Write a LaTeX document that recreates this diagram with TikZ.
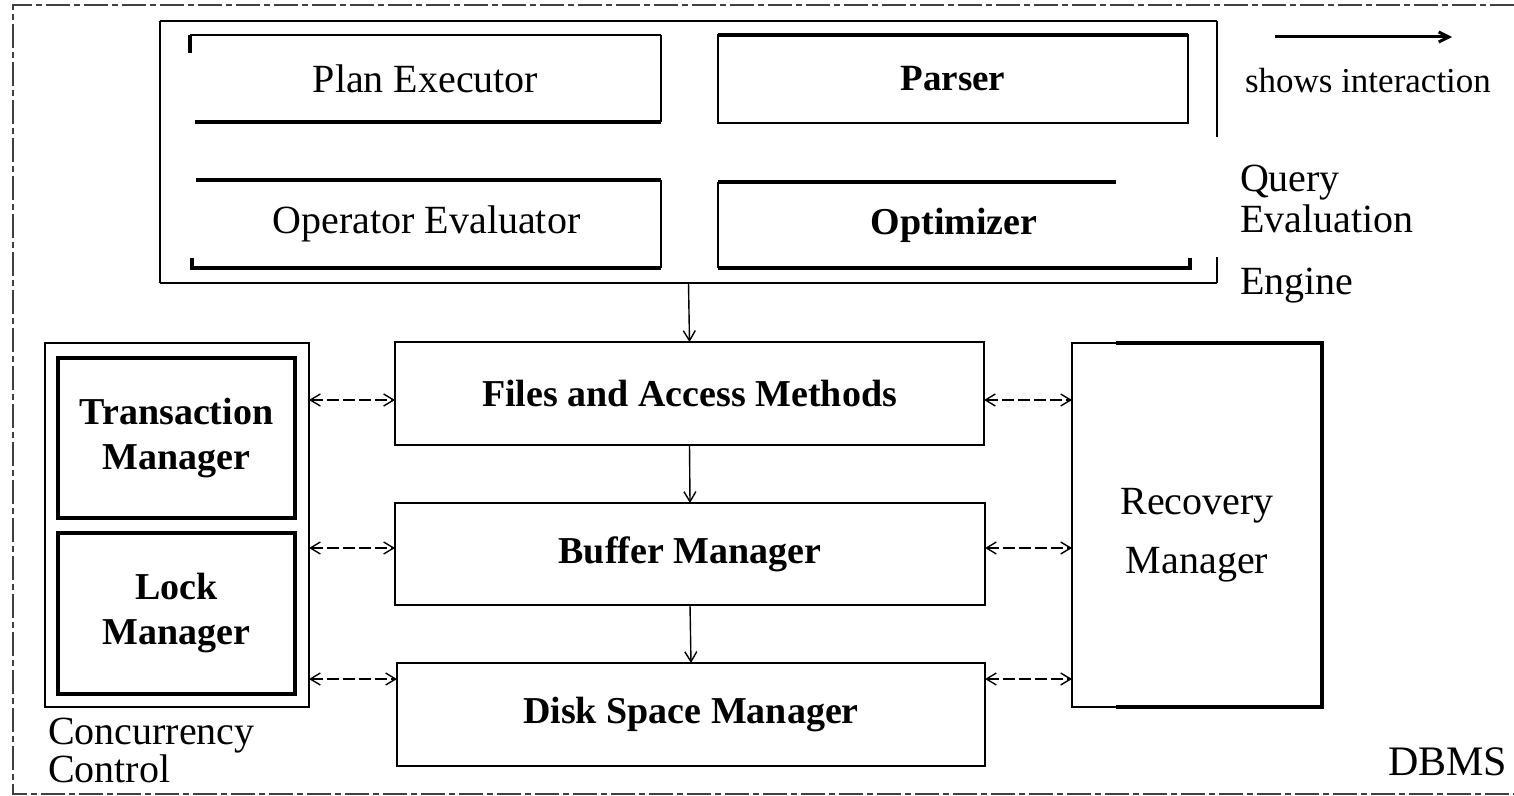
\documentclass[tikz,border=0pt]{standalone}
\usepackage{fontspec}
\setmainfont{Liberation Serif}
\usetikzlibrary{arrows.meta}
\begin{document}
\begin{tikzpicture}[x=0.5pt,y=-0.5pt,
  every node/.style={inner sep=0pt, outer sep=0pt},
  txt/.style={font=\fontsize{20}{22.5}\selectfont, align=center},
  btxt/.style={font=\fontsize{19}{22.5}\selectfont\bfseries, align=center},
  heavy/.style={line width=2.3pt},
  medium/.style={line width=1.4pt},
  hair/.style={line width=0.7pt},
  flow/.style={line width=0.7pt, -{Straight Barb[length=5pt,width=6pt]}},
  inter/.style={line width=0.7pt, dash pattern=on 6pt off 2pt, {Straight Barb[length=5pt,width=6pt]}-{Straight Barb[length=5pt,width=6pt]}},
  frame/.style={line width=0.6pt, black!75, dash pattern=on 12pt off 2pt on 3pt off 2pt},
]
\useasboundingbox (0,0) rectangle (1514,796);

% outer DBMS frame
\draw[frame] (1514,5) -- (13,5) -- (13,794) -- (1514,794);

% Query evaluation engine
\node[minimum width=528.5pt, minimum height=131pt] (qee) at (688.5,152) {};
\node[txt, minimum width=235.5pt, minimum height=43.5pt] (pe) at (425.5,78.5) {Plan Executor};
\node[btxt, font=\fontsize{18.5}{22.5}\selectfont\bfseries, minimum width=235pt, minimum height=44pt] (pa) at (953,79) {Parser};
\node[txt, minimum width=234.5pt, minimum height=44pt] (oe) at (426.5,224) {Operator Evaluator};
\node[btxt, minimum width=236pt, minimum height=43pt] (op) at (954,225) {Optimizer};

% Plan Executor borders
\draw[hair] (pe.north west) -- (pe.north east);
\draw[heavy] ([yshift=-9pt]pe.north west) -- (pe.north west);
\draw[medium] (pe.north east) -- (pe.south east);
\draw[heavy] ([xshift=2.5pt]pe.south west) -- (pe.south east);
% Operator Evaluator borders
\draw[heavy] ([xshift=2pt]oe.north west) -- (oe.north east);
\draw[medium] (oe.north east) -- (oe.south east);
\draw[heavy] ([yshift=5pt]oe.south west) -- (oe.south west) -- (oe.south east);
% Parser borders
\draw[medium] (pa.north west) rectangle (pa.south east);
\draw[heavy] (pa.north west) -- (pa.north east);
% Optimizer borders
\draw[medium] (op.north west) -- (op.south west);
\draw[heavy] (op.north west) -- ([xshift=-37pt]op.north east);
\draw[heavy] (op.south west) -- (op.south east) -- ([yshift=5pt]op.south east);
% QEE frame
\draw[medium] (qee.north west) -- (qee.north east);
\draw[hair] (qee.north west) -- (qee.south west);
\draw[medium] (qee.south west) -- (qee.south east);
\draw[hair] (qee.north east) -- ([yshift=-58pt]qee.north east);
\draw[hair] (qee.south east) -- ([yshift=13pt]qee.south east);

\node[txt, anchor=base west] (qe1) at (1240,192) {Query};
\node[txt, anchor=base west] (qe2) at (1240,233) {Evaluation};
\node[txt, anchor=base west] (qe3) at (1240,295) {Engine};

% legend
\coordinate (lg1) at (1275,37);
\coordinate (lg2) at (1452,37);
\draw[line width=1.5pt, -{Straight Barb[length=5pt,width=5pt]}] (lg1) -- (lg2);
\node[font=\fontsize{17.5}{20}\selectfont, anchor=base west] (legend) at (1245,93) {shows interaction};

% storage layers
\node[btxt, draw, medium, minimum width=294.5pt, minimum height=51.5pt] (fam) at (689.5,393.5) {Files and Access Methods};
\node[btxt, draw, medium, minimum width=295pt, minimum height=51pt] (bm) at (690,554) {Buffer Manager};
\node[btxt, draw, medium, minimum width=294pt, minimum height=51.5pt] (dsm) at (691,714.5) {Disk Space Manager};

% concurrency control
\node[draw, hair, minimum width=132pt, minimum height=182pt] (cc) at (177,525) {};
\node[btxt, draw, heavy, minimum width=118.5pt, minimum height=80pt] (tm) at (176.5,438) {Transaction\\Manager};
\node[btxt, draw, line width=1.8pt, minimum width=118.5pt, minimum height=80.5pt] (lm) at (176.5,613.5) {Lock\\Manager};
\node[font=\fontsize{20}{16.5}\selectfont, align=left, anchor=north west] (cclabel) at (48,718) {Concurrency\\Control};

% recovery manager
\node[minimum width=125pt, minimum height=182pt] (rm) at (1197,525) {};
\draw[hair] ([xshift=22pt]rm.north west) -- (rm.north west) -- (rm.south west) -- ([xshift=22pt]rm.south west);
\draw[heavy] ([xshift=22pt]rm.north west) -- (rm.north east) -- (rm.south east) -- ([xshift=22pt]rm.south west);
\node[txt, font=\fontsize{20}{29.5}\selectfont] (rmlabel) at (1197,535) {Recovery\\Manager};

% DBMS label
\node[font=\fontsize{21}{21}\selectfont, anchor=base west] (dbms) at (1388,775) {DBMS};

% vertical flow
\draw[flow] (qee.south) -- (fam.north);
\draw[flow] (fam.south) -- (bm.north);
\draw[flow] (bm.south) -- (dsm.north);

% interactions
\path (fam.west) ++(0,6.5) coordinate (fw);
\path (fam.east) ++(0,6.5) coordinate (fe);
\path (bm.west) ++(0,-6) coordinate (bw);
\path (bm.east) ++(0,-6) coordinate (be);
\path (dsm.north west) ++(0,16) coordinate (dw);
\path (dsm.north east) ++(0,16) coordinate (de);
\draw[inter] (cc.east |- fw) -- (fw);
\draw[inter] (cc.east |- bw) -- (bw);
\draw[inter] (cc.east |- dw) -- (dw);
\draw[inter] (fe) -- (rm.west |- fe);
\draw[inter] (be) -- (rm.west |- be);
\draw[inter] (de) -- (rm.west |- de);
\end{tikzpicture}
\end{document}
